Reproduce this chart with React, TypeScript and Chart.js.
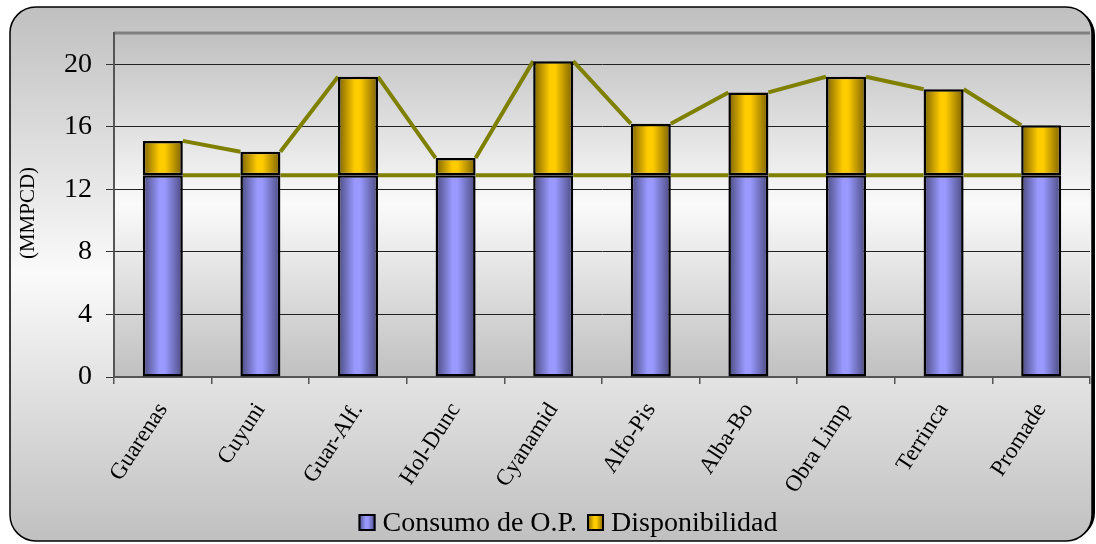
import React, { useEffect, useRef } from 'react';
import { Chart, registerables } from 'chart.js';

Chart.register(...registerables);

// Gas demand per plant (MMPCD): consumption plus remaining availability
const categories = ['Guarenas', 'Cuyuni', 'Guar-Alf.', 'Hol-Dunc', 'Cyanamid', 'Alfo-Pis', 'Alba-Bo', 'Obra Limp', 'Terrinca', 'Promade'];
const consumo = [12.9, 12.9, 12.9, 12.9, 12.9, 12.9, 12.9, 12.9, 12.9, 12.9];
const disponibilidad = [2.2, 1.5, 6.3, 1.1, 7.3, 3.3, 5.3, 6.3, 5.5, 3.2];
const seriesNames = ['Consumo de O.P.', 'Disponibilidad'];
const yTickValues = [0, 4, 8, 12, 16, 20];
const yMax = 22;
const yTitle = '(MMPCD)';

const SERIF = "'Liberation Serif', 'Times New Roman', serif";
const BAR_PCT = 0.41;

type Shade = { dark: string; light: string };
const PURPLE: Shade = { dark: '#4a4a7e', light: '#9999ff' };
const GOLD: Shade = { dark: '#7a6000', light: '#ffcc00' };

function cylinderGradient(ctx: CanvasRenderingContext2D, left: number, right: number, s: Shade) {
  const g = ctx.createLinearGradient(left, 0, right, 0);
  g.addColorStop(0, s.dark);
  g.addColorStop(0.42, s.light);
  g.addColorStop(0.55, s.light);
  g.addColorStop(1, s.dark);
  return g;
}

function barFill(s: Shade) {
  return (c: any) => {
    const chart = c.chart;
    const x = chart.scales && chart.scales.x;
    if (!x || c.dataIndex == null || !x.width) return s.light;
    const cx = x.getPixelForValue(c.dataIndex);
    const w = (x.width / categories.length) * BAR_PCT;
    return cylinderGradient(chart.ctx, cx - w / 2, cx + w / 2, s);
  };
}

function roundRect(ctx: CanvasRenderingContext2D, x: number, y: number, w: number, h: number, r: number) {
  ctx.beginPath();
  ctx.moveTo(x + r, y);
  ctx.lineTo(x + w - r, y);
  ctx.arcTo(x + w, y, x + w, y + r, r);
  ctx.lineTo(x + w, y + h - r);
  ctx.arcTo(x + w, y + h, x + w - r, y + h, r);
  ctx.lineTo(x + r, y + h);
  ctx.arcTo(x, y + h, x, y + h - r, r);
  ctx.lineTo(x, y + r);
  ctx.arcTo(x, y, x + r, y, r);
  ctx.closePath();
}

// Rounded frame, gradient backgrounds and the plot's top edge
const backdrop = {
  id: 'backdrop',
  beforeDraw(chart: any) {
    const { ctx, chartArea: a } = chart;
    const bx = 10, by = 7, bw = 1082, bh = 534, r = 26;
    ctx.save();
    ctx.fillStyle = '#000';
    roundRect(ctx, bx + 3, by + 2, bw, bh - 4, r);
    ctx.fill();
    const og = ctx.createLinearGradient(0, by, 0, by + bh);
    og.addColorStop(0, '#c0c0c0');
    og.addColorStop(0.5, '#fafafa');
    og.addColorStop(1, '#c0c0c0');
    roundRect(ctx, bx, by, bw, bh, r);
    ctx.fillStyle = og;
    ctx.fill();
    ctx.lineWidth = 1.5;
    ctx.strokeStyle = '#000';
    ctx.stroke();

    const pg = ctx.createLinearGradient(0, a.top, 0, a.bottom);
    pg.addColorStop(0, '#c0c0c0');
    pg.addColorStop(0.5, '#fafafa');
    pg.addColorStop(1, '#c0c0c0');
    ctx.fillStyle = pg;
    ctx.fillRect(a.left, a.top, a.right - a.left, a.bottom - a.top);

    ctx.strokeStyle = '#808080';
    ctx.lineWidth = 3;
    ctx.beginPath();
    ctx.moveTo(a.left, a.top);
    ctx.lineTo(a.right, a.top);
    ctx.stroke();
    ctx.restore();
  },
};

// Series lines joining the tops of each stacked segment
const seriesLines = {
  id: 'seriesLines',
  beforeDatasetsDraw(chart: any) {
    const ctx = chart.ctx;
    ctx.save();
    ctx.strokeStyle = '#808000';
    ctx.lineWidth = 4;
    ctx.lineCap = 'butt';
    chart.data.datasets.forEach((_: any, di: number) => {
      const els = chart.getDatasetMeta(di).data as any[];
      ctx.beginPath();
      for (let i = 0; i < els.length - 1; i++) {
        const a = els[i];
        const b = els[i + 1];
        ctx.moveTo(a.x + a.width / 2, a.y);
        ctx.lineTo(b.x - b.width / 2, b.y);
      }
      ctx.stroke();
    });
    ctx.restore();
  },
};

// Vertical unit label beside the value axis
const unitLabel = {
  id: 'unitLabel',
  afterDraw(chart: any) {
    const ctx: CanvasRenderingContext2D = chart.ctx;
    const a = chart.chartArea;
    ctx.save();
    ctx.translate(28, (a.top + a.bottom) / 2 + 8);
    ctx.rotate(-Math.PI / 2);
    ctx.font = `21px ${SERIF}`;
    ctx.fillStyle = '#000';
    ctx.textAlign = 'center';
    ctx.textBaseline = 'middle';
    ctx.fillText(yTitle, 0, 0);
    ctx.restore();
  },
};

// Legend row under the category labels
const legendRow = {
  id: 'legendRow',
  afterDraw(chart: any) {
    const ctx: CanvasRenderingContext2D = chart.ctx;
    const shades = [PURPLE, GOLD];
    const box = 17, gap = 7, spacing = 10;
    ctx.save();
    ctx.font = `28px ${SERIF}`;
    const widths = seriesNames.map((n) => ctx.measureText(n).width);
    const total = widths.reduce((s, w) => s + box + gap + w, 0) + spacing * (seriesNames.length - 1);
    let x = chart.width / 2 + 20 - total / 2;
    const baseline = 531;
    const boxTop = 514;
    seriesNames.forEach((name, i) => {
      ctx.fillStyle = cylinderGradient(ctx, x, x + box, shades[i]);
      ctx.fillRect(x, boxTop, box, box);
      ctx.lineWidth = 2;
      ctx.strokeStyle = '#000';
      ctx.strokeRect(x + 1, boxTop + 1, box - 2, box - 2);
      ctx.fillStyle = '#000';
      ctx.textBaseline = 'alphabetic';
      ctx.textAlign = 'left';
      ctx.fillText(name, x + box + gap, baseline);
      x += box + gap + widths[i] + spacing;
    });
    ctx.restore();
  },
};

export default function App() {
  const ref = useRef<HTMLCanvasElement | null>(null);

  useEffect(() => {
    if (!ref.current) return;
    const chart = new Chart(ref.current, {
      type: 'bar',
      data: {
        labels: categories,
        datasets: [
          {
            label: seriesNames[0],
            data: consumo,
            backgroundColor: barFill(PURPLE) as any,
            borderColor: '#000',
            borderWidth: 2.5,
            borderSkipped: false,
            barPercentage: BAR_PCT,
            categoryPercentage: 1,
          },
          {
            label: seriesNames[1],
            data: disponibilidad,
            backgroundColor: barFill(GOLD) as any,
            borderColor: '#000',
            borderWidth: 2.5,
            borderSkipped: false,
            barPercentage: BAR_PCT,
            categoryPercentage: 1,
          },
        ],
      },
      options: {
        responsive: false,
        animation: false,
        layout: { padding: { left: 0, top: 33, right: 6, bottom: 0 } },
        plugins: {
          legend: { display: false },
          tooltip: { enabled: false },
        },
        scales: {
          x: {
            stacked: true,
            grid: { drawOnChartArea: false, offset: true, tickLength: 7, color: '#555', lineWidth: 1.5 },
            border: { color: '#555', width: 2 },
            ticks: {
              autoSkip: false,
              minRotation: 57,
              maxRotation: 57,
              padding: 14,
              color: '#000',
              font: { family: SERIF, size: 23 },
            },
            afterFit: (s: any) => {
              s.height = 167;
            },
          },
          y: {
            stacked: true,
            min: 0,
            max: yMax,
            afterBuildTicks: (s: any) => {
              s.ticks = yTickValues.map((v) => ({ value: v }));
            },
            grid: { color: '#222', lineWidth: 1, tickLength: 8, tickColor: '#333' },
            border: { color: '#555', width: 2 },
            ticks: {
              padding: 14,
              color: '#000',
              font: { family: SERIF, size: 28 },
            },
            afterFit: (s: any) => {
              s.width = 114;
            },
          },
        },
      },
      plugins: [backdrop, seriesLines, unitLabel, legendRow],
    });
    return () => chart.destroy();
  }, []);

  return (
    <div style={{ position: 'fixed', left: 0, top: 0, width: 1096, height: 544, background: '#fff' }}>
      <canvas ref={ref} width={1096} height={544} style={{ display: 'block' }} />
    </div>
  );
}
